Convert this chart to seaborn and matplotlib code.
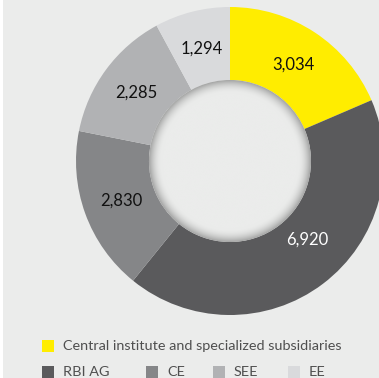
import numpy as np
import matplotlib
matplotlib.use("Agg")
import matplotlib.pyplot as plt
from matplotlib.patches import Rectangle, Circle
import seaborn as sns

# Segment data (clockwise from 12 o'clock)
segments = ["Central institute and specialized subsidiaries", "RBI AG", "CE", "SEE", "EE"]
values = [3034, 6920, 2830, 2285, 1294]
value_labels = ["3,034", "6,920", "2,830", "2,285", "1,294"]
label_colors = ["#111111", "#ffffff", "#111111", "#111111", "#111111"]
palette = sns.color_palette(["#ffed00", "#5a5a5c", "#858688", "#b1b2b4", "#d9dadc"])

BG = "#ebeceb"

sns.set_theme(style="white", rc={"figure.facecolor": BG, "axes.facecolor": BG})
plt.rcParams["font.family"] = ["Lato", "DejaVu Sans"]

W, H = 379, 378
fig = plt.figure(figsize=(W / 100, H / 100), dpi=100)
ax = fig.add_axes([0, 0, 1, 1])
ax.set_facecolor(BG)

cx, cy = 230, H - 161
r_out, r_in = 154, 81

wedges, _ = ax.pie(values, colors=palette, startangle=90, counterclock=False,
                   radius=r_out, center=(cx, cy),
                   wedgeprops=dict(width=r_out - r_in, linewidth=0))

# Inset shadow inside the hole
n = 400
xs = np.linspace(cx - r_in, cx + r_in, n)
ys = np.linspace(cy - r_in, cy + r_in, n)
XX, YY = np.meshgrid(xs, ys)
rr = np.hypot(XX - cx, YY - cy)
f = np.clip((rr - (r_in - 13)) / 13, 0, 1) ** 2
base = np.array(matplotlib.colors.to_rgb(BG))
img = base[None, None, :] * (1 - 0.30 * f[..., None])
im = ax.imshow(img, extent=(cx - r_in, cx + r_in, cy - r_in, cy + r_in),
               origin="lower", zorder=3, interpolation="bilinear")
im.set_clip_path(Circle((cx, cy), r_in, transform=ax.transData))

# Value labels near the middle of each segment
r_lab = 116
for w, txt, col in zip(wedges, value_labels, label_colors):
    frac, r = 0.5, r_lab
    if txt == "6,920":
        frac, r = 0.55, 110
    ang = np.deg2rad(w.theta1 + frac * (w.theta2 - w.theta1))
    ax.text(cx + r * np.cos(ang), cy + r * np.sin(ang), txt,
            ha="center", va="center", fontsize=12, color=col, zorder=4)

# Legend
leg_color = "#4f4f4f"
sq = 12
rows = [[(0, 42)], [(1, 42), (2, 146), (3, 213), (4, 288)]]
row_y = [H - 352, H - 378]
for row, y in zip(rows, row_y):
    for idx, x in row:
        ax.add_patch(Rectangle((x, y), sq, sq, facecolor=palette[idx],
                               edgecolor="none", zorder=4))
        ax.text(x + 21, y + sq / 2, segments[idx], ha="left", va="center",
                fontsize=10.4, color=leg_color, zorder=4)

# White strip on the left edge
ax.add_patch(Rectangle((0, 0), 3, H, facecolor="white", edgecolor="none", zorder=5))

ax.set_xlim(0, W)
ax.set_ylim(0, H)
ax.set_aspect("equal")
ax.axis("off")

fig.savefig("out.png", dpi=100, facecolor=BG)
